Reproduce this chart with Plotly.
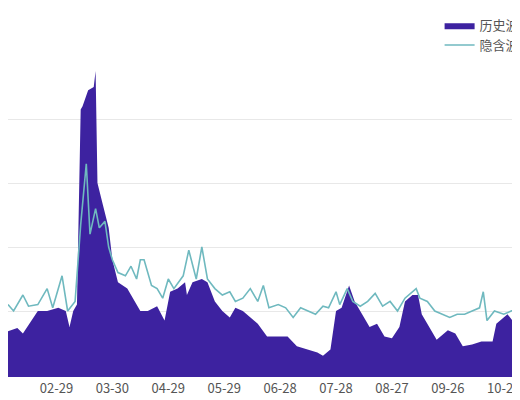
import pandas as pd
import plotly.graph_objects as go

START = "2024-02-03"

# historical volatility (day offsets from START, value)
hv_days = [0, 5, 8, 16, 21, 27, 31, 33, 35, 37, 39, 40, 43, 46, 47, 48, 51, 54, 56, 59,
           64, 67, 71, 75, 80, 84, 87, 91, 95, 96, 99, 104, 107, 111, 115, 119, 122, 126,
           130, 134, 139, 145, 150, 155, 161, 166, 169, 173, 176, 179, 183, 186, 190, 194,
           198, 202, 206, 210, 213, 217, 220, 222, 226, 230, 236, 240, 244, 249, 254, 260,
           262, 268, 272, 276, 279]
hv_vals = [13.7, 14.7, 13, 20, 20, 21, 20, 15, 20, 22, 83, 84, 89, 90, 95, 60, 53, 46, 36, 29,
           27, 24, 20, 20, 21.5, 17, 26, 27, 29, 25, 29, 30, 29, 23, 20, 18, 21, 20,
           18, 16, 12, 12, 12, 9, 8, 7, 6, 8, 20, 21, 28, 23, 19, 15,
           16, 12, 11.5, 15, 23, 25, 25, 19, 15, 11, 14, 13, 9, 9.5, 10.5, 10.5,
           16, 19, 16, 21, 23]

# implied volatility
iv_days = [0, 3, 8, 11, 16, 21, 24, 29, 32, 36, 39, 42, 44, 47, 49, 52, 54, 56, 59, 63,
           66, 69, 71, 73, 77, 80, 83, 86, 89, 94, 97, 101, 104, 107, 111, 115, 119, 122,
           126, 130, 134, 137, 140, 145, 149, 153, 157, 161, 165, 169, 172, 176, 178, 182,
           185, 189, 193, 197, 201, 205, 209, 213, 219, 221, 225, 229, 233, 237, 241, 245,
           249, 253, 255, 257, 261, 266, 270, 274, 277, 279]
iv_vals = [22, 20, 25, 21.5, 22, 27, 21, 31, 20, 23, 47, 66, 44, 52, 46, 48, 40, 36, 32, 31,
           34, 30, 36, 36, 28, 27, 24, 30, 27, 31, 39, 30, 40, 30, 27, 25, 26, 23,
           24, 27, 23, 28, 21, 22, 21, 18, 21, 20, 19, 21.5, 21, 26, 22, 27,
           23, 21.5, 23, 25.5, 21.5, 23, 20, 24, 27, 24, 23, 20, 19, 18, 19, 19,
           20, 21, 26, 17, 20, 19, 20, 21, 23.5, 21]

TICK0 = "2024-01-30"

start = pd.Timestamp(START)
hv_x = [start + pd.Timedelta(days=d) for d in hv_days]
iv_x = [start + pd.Timedelta(days=d) for d in iv_days]

PURPLE = "#3d22a0"
TEAL = "#6fb9bf"
FONT = dict(family="Noto Sans CJK SC, Noto Sans, sans-serif", color="#555555", size=13)

fig = go.Figure()
fig.add_trace(go.Scatter(
    x=hv_x, y=hv_vals, name="历史波动率", mode="lines",
    line=dict(width=0, color=PURPLE), fill="tozeroy", fillcolor=PURPLE,
))
fig.add_trace(go.Scatter(
    x=iv_x, y=iv_vals, name="隐含波动率", mode="lines",
    line=dict(width=1.6, color=TEAL),
))

fig.update_layout(
    width=520, height=400,
    margin=dict(l=0, r=0, t=47, b=33, autoexpand=False),
    plot_bgcolor="white", paper_bgcolor="white",
    font=FONT,
    legend=dict(x=0.83, xanchor="left", y=1.14, yanchor="top",
                bgcolor="rgba(0,0,0,0)", font=dict(size=13), tracegroupgap=2),
    xaxis=dict(type="date", range=[start, start + pd.Timedelta(days=279)],
               tick0=TICK0, dtick=30 * 86400000, tickformat="%m-%d",
               showgrid=False, ticks="", showline=True, linecolor=PURPLE, linewidth=2,
               automargin=False),
    yaxis=dict(range=[0, 100], dtick=20, showticklabels=False,
               gridcolor="#e8e8e8", zeroline=False, automargin=False),
)

fig.write_html("out.html")
